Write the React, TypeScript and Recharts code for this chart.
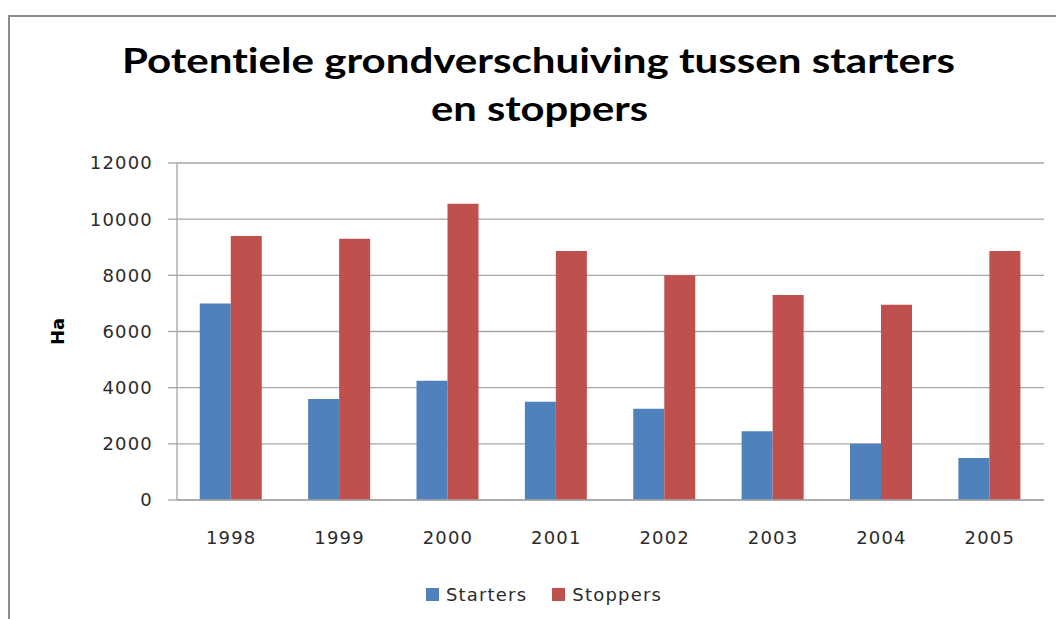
import { BarChart, Bar, XAxis, YAxis, CartesianGrid, Legend } from 'recharts'

const years = ['1998', '1999', '2000', '2001', '2002', '2003', '2004', '2005']
const starters = [7000, 3600, 4250, 3500, 3250, 2450, 2000, 1500]
const stoppers = [9400, 9300, 10550, 8870, 8000, 7300, 6950, 8870]
const yTicks = [0, 2000, 4000, 6000, 8000, 10000, 12000]

const data = years.map((year, i) => ({ year, Starters: starters[i], Stoppers: stoppers[i] }))

const tickFont = {
  fontFamily: '"DejaVu Sans", Verdana, sans-serif',
  fontSize: 18,
  fill: '#2b2b2b',
  letterSpacing: 1.2,
}

function LegendBox({ payload }: any) {
  return (
    <div style={{ display: 'flex', justifyContent: 'center', gap: 25, paddingLeft: 32, fontFamily: tickFont.fontFamily, fontSize: 18, letterSpacing: 1.2, color: '#2b2b2b' }}>
      {(payload || []).map((p: any) => (
        <div key={p.value} style={{ display: 'flex', alignItems: 'center', gap: 7 }}>
          <div style={{ width: 13, height: 13, background: p.color }} />
          <span>{p.value}</span>
        </div>
      ))}
    </div>
  )
}

export default function App() {
  return (
    <div style={{ position: 'absolute', left: 0, top: 0, width: 1056, height: 619, overflow: 'hidden', background: '#fff' }}>
      <div style={{ position: 'absolute', left: 8, top: 15, width: 1200, height: 800, borderTop: '2px solid #8c8c8c', borderLeft: '2px solid #8c8c8c' }} />
      <svg width={1056} height={140} style={{ position: 'absolute', left: 0, top: 0 }}>
        <g style={{ fontFamily: 'Lato, "Open Sans", sans-serif', fontWeight: 700, fontSize: 35, fontVariantLigatures: 'none' }} fill="#000">
          <text x={122} y={73} textLength={833} lengthAdjust="spacingAndGlyphs">Potentiele grondverschuiving tussen starters</text>
          <text x={431} y={121} textLength={217} lengthAdjust="spacingAndGlyphs">en stoppers</text>
        </g>
      </svg>
      <div style={{ position: 'absolute', left: 0, top: 0 }}>
        <BarChart
          width={1056}
          height={619}
          data={data}
          margin={{ top: 163, right: 12, bottom: 89, left: 0 }}
          barCategoryGap="21%"
          barGap={0}
        >
          <CartesianGrid horizontal vertical={false} stroke="#a6a6a6" strokeWidth={1.3} />
          <XAxis
            dataKey="year"
            axisLine={{ stroke: '#a6a6a6', strokeWidth: 1.3 }}
            tickLine={false}
            tickSize={0}
            tickMargin={31}
            tick={tickFont}
            interval={0}
          />
          <YAxis
            width={177}
            domain={[0, 12000]}
            ticks={yTicks}
            interval={0}
            axisLine={{ stroke: '#a6a6a6', strokeWidth: 1.3 }}
            tickLine={{ stroke: '#a6a6a6', strokeWidth: 1.3 }}
            tickSize={9}
            tickMargin={15}
            tick={tickFont}
            label={{
              value: 'Ha',
              angle: -90,
              position: 'insideLeft',
              offset: 0,
              dx: 58,
              style: { fontFamily: tickFont.fontFamily, fontWeight: 700, fontSize: 18, fill: '#000', textAnchor: 'middle' },
            }}
          />
          <Legend
            layout="horizontal"
            verticalAlign="middle"
            content={<LegendBox />}
            wrapperStyle={{ top: 584, left: 0, width: 1056 }}
          />
          <Bar dataKey="Starters" fill="#4F81BD" isAnimationActive={false} />
          <Bar dataKey="Stoppers" fill="#C0504D" isAnimationActive={false} />
        </BarChart>
      </div>
    </div>
  )
}
